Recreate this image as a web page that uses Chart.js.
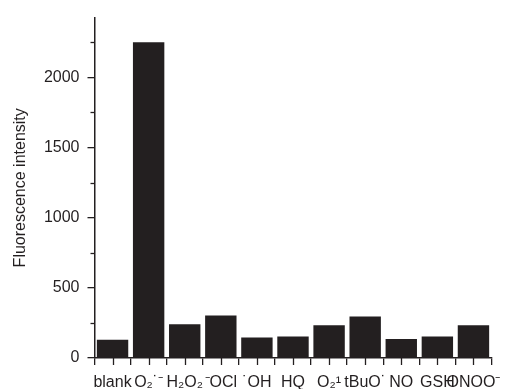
<!DOCTYPE html>
<html>
<head>
<meta charset="utf-8">
<script src="https://cdn.jsdelivr.net/npm/chart.js@4/dist/chart.umd.min.js"></script>
<style>
html,body{margin:0;padding:0;background:#fff;}
#wrap{width:510px;height:389px;position:relative;}
</style>
</head>
<body>
<div id="wrap"><canvas id="c" width="510" height="389"></canvas></div>
<script>
const categories = ['blank', 'O₂˙⁻', 'H₂O₂', '⁻OCl', '˙OH', 'HQ', 'O₂¹', 'tBuO˙', 'NO', 'GSH', 'ONOO⁻'];
const intensity = [130, 2250, 240, 303, 146, 153, 233, 296, 135, 153, 233];
const yMajorTicks = [0, 500, 1000, 1500, 2000];
const yMinorTicks = [250, 750, 1250, 1750, 2250];
const yMax = 2425;

const INK = '#231f20';
const FONT = '"Liberation Sans", Arial, Helvetica, sans-serif';

const extraTicks = {
  id: 'extraTicks',
  afterDraw(chart) {
    const ctx = chart.ctx;
    const x = chart.scales.x, y = chart.scales.y;
    ctx.save();
    ctx.strokeStyle = INK;
    ctx.lineWidth = 1.3;
    yMinorTicks.forEach(v => {
      const py = Math.round(y.getPixelForValue(v)) + 0.5;
      ctx.beginPath();
      ctx.moveTo(x.left - 4, py);
      ctx.lineTo(x.left, py);
      ctx.stroke();
    });
    categories.forEach((c, i) => {
      const px = Math.round(x.getPixelForValue(i)) + 0.5;
      ctx.beginPath();
      ctx.moveTo(px, y.bottom);
      ctx.lineTo(px, y.bottom + 7);
      ctx.stroke();
    });
    ctx.restore();
  }
};

new Chart(document.getElementById('c'), {
  type: 'bar',
  data: {
    labels: categories,
    datasets: [{
      data: intensity,
      backgroundColor: INK,
      borderWidth: 0,
      barPercentage: 0.87,
      categoryPercentage: 1.0
    }]
  },
  options: {
    responsive: false,
    animation: false,
    devicePixelRatio: 1,
    layout: { padding: { top: 13, right: 18.5, bottom: 0, left: 0 } },
    plugins: { legend: { display: false }, tooltip: { enabled: false } },
    scales: {
      x: {
        type: 'category',
        offset: true,
        grid: {
          display: true, offset: true, drawOnChartArea: false, drawTicks: true,
          tickLength: 7, color: INK, lineWidth: 1.3
        },
        border: { display: true, color: INK, width: 1.5 },
        ticks: {
          autoSkip: false, maxRotation: 0, minRotation: 0, padding: 8,
          color: INK, font: { family: FONT, size: 16 }
        },
        afterFit(scale) { scale.height = 31; }
      },
      y: {
        min: 0, max: yMax,
        grid: {
          display: true, drawOnChartArea: false, drawTicks: true,
          tickLength: 7, color: INK, lineWidth: 1.3
        },
        border: { display: true, color: INK, width: 1.5 },
        ticks: {
          padding: 8, color: INK, font: { family: FONT, size: 16 },
          callback: v => String(v)
        },
        afterBuildTicks(scale) { scale.ticks = yMajorTicks.map(v => ({ value: v })); },
        title: {
          display: true, text: 'Fluorescence intensity', color: INK,
          font: { family: FONT, size: 16 }, padding: { top: 11, bottom: 0 }
        },
        afterFit(scale) { scale.width = 94.5; }
      }
    }
  },
  plugins: [extraTicks]
});
</script>
</body>
</html>
